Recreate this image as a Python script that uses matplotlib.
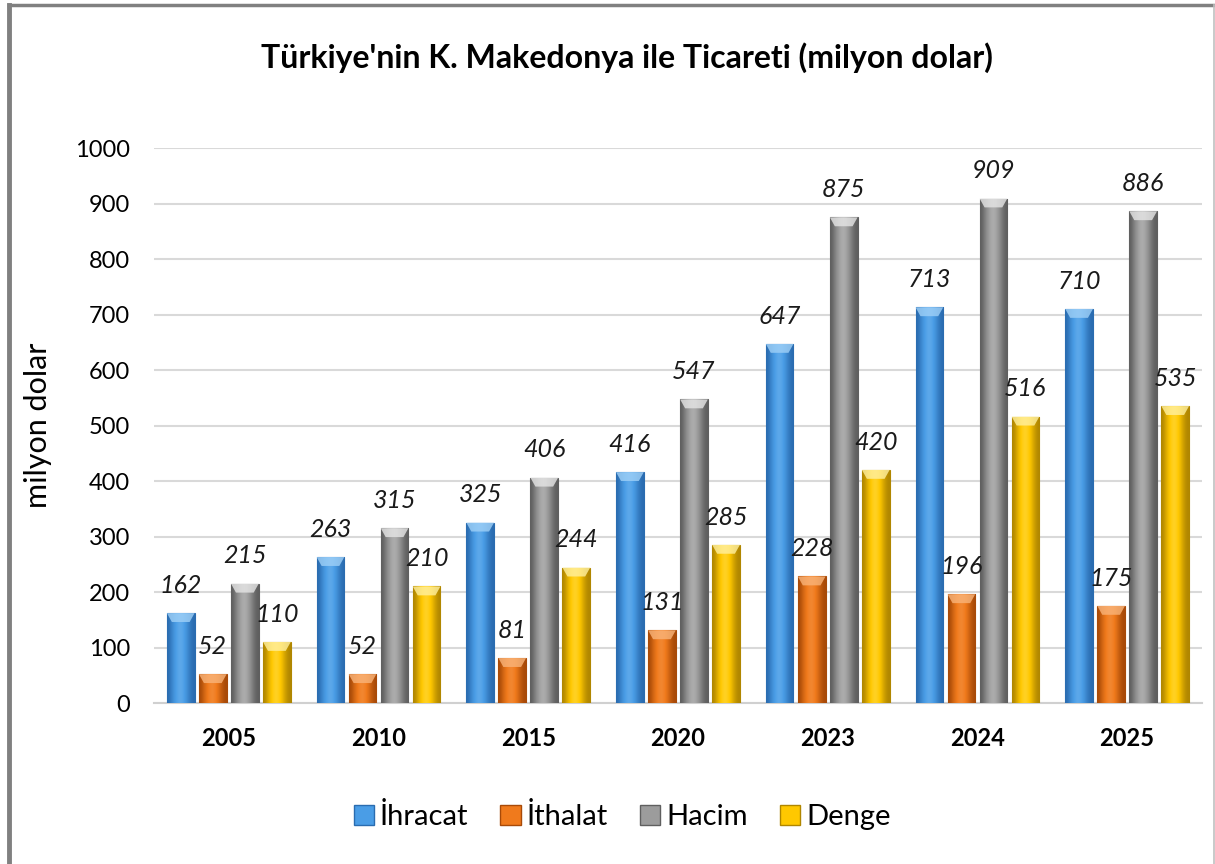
import numpy as np
import matplotlib
matplotlib.use("Agg")
import matplotlib.pyplot as plt
from matplotlib.patches import Polygon, Rectangle
from matplotlib.lines import Line2D
from matplotlib.colors import LinearSegmentedColormap

plt.rcParams['font.family'] = ['Lato', 'DejaVu Sans']

years = ['2005', '2010', '2015', '2020', '2023', '2024', '2025']
ihracat = [162, 263, 325, 416, 647, 713, 710]
ithalat = [52, 52, 81, 131, 228, 196, 175]
hacim = [215, 315, 406, 547, 875, 909, 886]
denge = [110, 210, 244, 285, 420, 516, 535]

series = [
    ('İhracat', ihracat, ('#2a6cb0', '#4a9de6', '#9fd0f7')),
    ('İthalat', ithalat, ('#a84a08', '#f07a1c', '#f9b47a')),
    ('Hacim', hacim, ('#5f5f5f', '#9c9c9c', '#e6e6e6')),
    ('Denge', denge, ('#b08600', '#ffc800', '#fff0a0')),
]

fig = plt.figure(figsize=(12.15, 8.64), dpi=100)
ax = fig.add_axes([0.1267, 0.1863, 0.8626, 0.6424])

x = np.arange(len(years))
step = 0.214
width = 0.185
ax.set_xlim(-0.5, len(years) - 0.5)
ax.set_ylim(0, 1000)

grad = np.array([[0.0, 0.35, 0.6, 0.75, 0.7, 0.5, 0.2, 0.0]])

for i, (name, vals, (dark, mid, light)) in enumerate(series):
    cmap = LinearSegmentedColormap.from_list(name, [dark, mid, light])
    xs = x + (i - 1.5) * step
    bars = ax.bar(xs, vals, width, color=mid, edgecolor=dark, linewidth=0.8, zorder=3)
    for b, v in zip(bars, vals):
        x0, w = b.get_x(), b.get_width()
        im = ax.imshow(grad, cmap=cmap, vmin=0, vmax=1.2, aspect='auto',
                       extent=[x0, x0 + w, 0, v], zorder=3.1, interpolation='bicubic')
        im.set_clip_path(b)
        h = min(16, v * 0.5)
        bevel = Polygon([[x0, v], [x0 + w, v], [x0 + w * 0.82, v - h], [x0 + w * 0.18, v - h]],
                        closed=True, facecolor=light, edgecolor='none', alpha=0.8, zorder=3.2)
        ax.add_patch(bevel)
        ax.text(x0 + w / 2, v + 50, str(v), ha='center', va='center', fontsize=18,
                style='italic', color='#1a1a1a', zorder=4)

ax.set_xticks(x)
ax.set_xticklabels(years, fontsize=17, fontweight='bold')
ax.set_yticks(np.arange(0, 1001, 100))
ax.tick_params(axis='y', labelsize=17, length=0, pad=17)
ax.tick_params(axis='x', length=0, pad=17)
ax.grid(axis='y', color='#d9d9d9', linewidth=1.5, zorder=0)
ax.set_axisbelow(True)
for s in ['top', 'right', 'left']:
    ax.spines[s].set_visible(False)
ax.spines['bottom'].set_color('#d0d0d0')
ax.spines['bottom'].set_linewidth(1.5)
ax.set_ylabel('milyon dolar', fontsize=22)
ax.yaxis.set_label_coords(-0.097, 0.5)

fig.text(0.516, 0.933, "Türkiye'nin K. Makedonya ile Ticareti (milyon dolar)",
         ha='center', va='center', fontsize=23, fontweight='bold')

handles = [Rectangle((0, 0), 1, 1, facecolor=mid, edgecolor=dark) for _, _, (dark, mid, light) in series]
fig.legend(handles, [s[0] for s in series], loc='center', bbox_to_anchor=(0.512, 0.055),
           ncol=4, frameon=False, fontsize=21, handlelength=0.7, handleheight=0.7,
           handletextpad=0.2, columnspacing=1.1)

# chart frame
fig.add_artist(Line2D([0.0075, 0.0075], [0, 0.994], color='#808080', linewidth=3.5))
fig.add_artist(Line2D([0.0075, 0.999], [0.994, 0.994], color='#808080', linewidth=2.5))
fig.add_artist(Line2D([0.999, 0.999], [0, 0.994], color='#c0c0c0', linewidth=1.2))

fig.savefig('out.png', dpi=100)
